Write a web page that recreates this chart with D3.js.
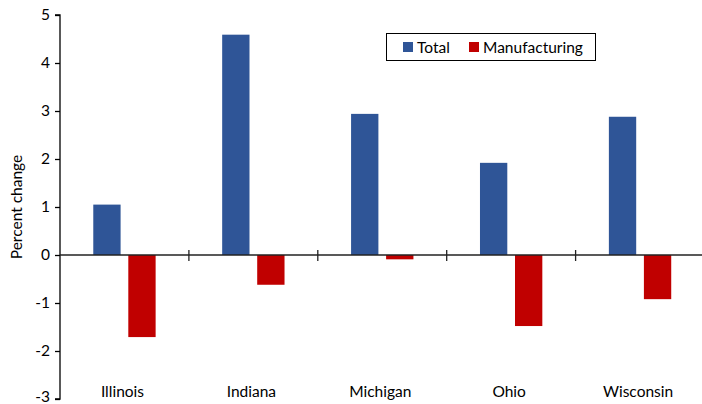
<!DOCTYPE html>
<html><head><meta charset="utf-8">
<script src="https://cdn.jsdelivr.net/npm/d3@7"></script>
<style>body{margin:0;background:#fff}svg{display:block}text{font-family:Lato,"Open Sans",sans-serif;fill:#000}</style>
</head><body>
<script>
const categories = ["Illinois","Indiana","Michigan","Ohio","Wisconsin"];
const seriesNames = ["Total","Manufacturing"];
const total = [1.05, 4.59, 2.94, 1.92, 2.88];
const manufacturing = [-1.71, -0.62, -0.09, -1.48, -0.92];
const yTicks = [-3,-2,-1,0,1,2,3,4,5];
const colors = ["#2F5597","#C00000"];

(function(){
const W = 702, H = 404;
const FS = 15.5;
const svg = d3.select("body").append("svg").attr("width", W).attr("height", H);
const pL = 60, pR = 704.5, pT = 15, pB = 399;

const x = d3.scaleBand().domain(categories).range([pL, pR]).paddingInner(0).paddingOuter(0);
const x1 = d3.scaleBand().domain(seriesNames).range([0, x.bandwidth()]).paddingInner(0.22).paddingOuter(0.95);
const y = d3.scaleLinear().domain([-3, 5]).range([pB, pT]);

const data = categories.map((c,i)=>({c, vals:[total[i], manufacturing[i]]}));

const g = svg.append("g");
data.forEach(d=>{
  d.vals.forEach((v,j)=>{
    g.append("rect")
      .attr("x", x(d.c) + x1(seriesNames[j]))
      .attr("width", x1.bandwidth())
      .attr("y", y(Math.max(0,v)))
      .attr("height", Math.abs(y(v)-y(0)))
      .attr("fill", colors[j]);
  });
});

// y axis
const yAxis = d3.axisLeft(y).tickValues(yTicks).tickSize(5).tickPadding(5).tickFormat(d=>String(d));
const ya = svg.append("g").attr("transform",`translate(${pL},0)`).call(yAxis);
ya.select(".domain").attr("stroke","#000").attr("stroke-width",1.3).attr("d",`M-5,${pT}H0V${pB}H-5`);
ya.selectAll(".tick line").attr("stroke","#000").attr("stroke-width",1.3);
ya.selectAll(".tick text").attr("font-size",FS).style("font-family","Lato,'Open Sans',sans-serif").attr("fill","#000")
  .attr("y", d=> d===yTicks[0] ? -2.5 : 0);

// zero line x axis
const xa = svg.append("g").attr("transform",`translate(0,${y(0)})`);
xa.append("line").attr("x1",pL).attr("x2",W).attr("y1",0).attr("y2",0).attr("stroke","#222").attr("stroke-width",1.3);
categories.slice(1).forEach(c=>{
  xa.append("line").attr("x1",x(c)).attr("x2",x(c)).attr("y1",-5).attr("y2",6).attr("stroke","#222").attr("stroke-width",1.3);
});

// category labels
svg.append("g").selectAll("text").data(categories).join("text")
  .attr("x", d=>x(d)+x.bandwidth()/2 - 2)
  .attr("y", 397)
  .attr("text-anchor","middle")
  .attr("font-size",FS)
  .text(d=>d);

// y label
svg.append("text")
  .attr("transform",`translate(22,${(pT+pB)/2}) rotate(-90)`)
  .attr("text-anchor","middle")
  .attr("font-size",FS)
  .text("Percent change");

// legend
const lg = svg.append("g");
lg.append("rect").attr("x",386.5).attr("y",33.5).attr("width",209).attr("height",27).attr("fill","#fff").attr("stroke","#000").attr("stroke-width",1);
const lx = [403, 469];
seriesNames.forEach((s,j)=>{
  lg.append("rect").attr("x",lx[j]).attr("y",42).attr("width",10).attr("height",10).attr("fill",colors[j]);
  lg.append("text").attr("x",lx[j]+14).attr("y",52.5).attr("font-size",FS).text(s);
});
})();
</script>
</body></html>
